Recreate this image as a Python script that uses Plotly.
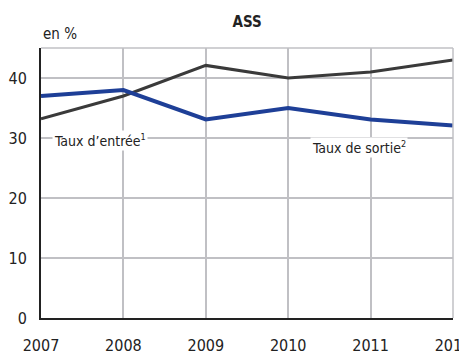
import plotly.graph_objects as go

years = [2007, 2008, 2009, 2010, 2011, 2012]
taux_entree = [33.2, 37.0, 42.1, 40.0, 41.0, 43.0]
taux_sortie = [37.0, 38.0, 33.1, 35.0, 33.1, 32.1]
y_ticks = [0, 10, 20, 30, 40]

FONT = "DejaVu Sans Condensed, Liberation Sans Narrow, Arial Narrow, sans-serif"

fig = go.Figure()
fig.add_trace(go.Scatter(x=years, y=taux_entree, mode="lines",
                         line=dict(color="#3a3a3a", width=3), name="Taux d'entrée"))
fig.add_trace(go.Scatter(x=years, y=taux_sortie, mode="lines",
                         line=dict(color="#1e3f97", width=4), name="Taux de sortie"))

fig.update_layout(
    width=467, height=353,
    margin=dict(l=33, r=22, t=40, b=43),
    paper_bgcolor="white", plot_bgcolor="white",
    showlegend=False,
    font=dict(family=FONT, color="#222", size=16),
    title=dict(text="<b>ASS</b>", x=0.512, xanchor="center", y=0.96, yanchor="middle",
               font=dict(family=FONT, size=15, color="#222")),
    xaxis=dict(range=[2007, 2012], tickvals=years, showgrid=True, gridcolor="#c0c0c4",
               gridwidth=1.5, showline=True, linecolor="#222", linewidth=2,
               ticks="", ticklen=0, tickfont=dict(size=16), mirror=False, zeroline=False,
               ticklabeloverflow="allow", automargin=False),
    yaxis=dict(range=[0, 45], tickvals=y_ticks, showgrid=True, gridcolor="#c0c0c4",
               gridwidth=1.5, showline=True, linecolor="#222", linewidth=2,
               ticks="", tickfont=dict(size=16), zeroline=False, automargin=False),
    shapes=[
        dict(type="line", xref="paper", yref="paper", x0=0, x1=1, y0=1, y1=1,
             line=dict(color="#c0c0c4", width=1.5)),
        dict(type="line", xref="paper", yref="paper", x0=1, x1=1, y0=0, y1=1,
             line=dict(color="#c0c0c4", width=1.5)),
    ],
    annotations=[
        dict(text="en %", xref="paper", yref="paper", x=0, y=1, xanchor="left",
             yanchor="bottom", yshift=3, showarrow=False, font=dict(size=15)),
        dict(text="Taux d’entrée<sup><span style='font-size:9px'>1</span></sup>",
             x=2007.13, y=29.6, xanchor="left",
             yanchor="middle", showarrow=False, font=dict(size=14), bgcolor="white"),
        dict(text="Taux de sortie<sup><span style='font-size:9px'>2</span></sup>",
             x=2010.27, y=28.5, xanchor="left",
             yanchor="middle", showarrow=False, font=dict(size=14), bgcolor="white"),
    ],
)
fig.update_xaxes(ticklabelstandoff=12)
fig.update_yaxes(ticklabelstandoff=9)
fig.write_html("out.html")
